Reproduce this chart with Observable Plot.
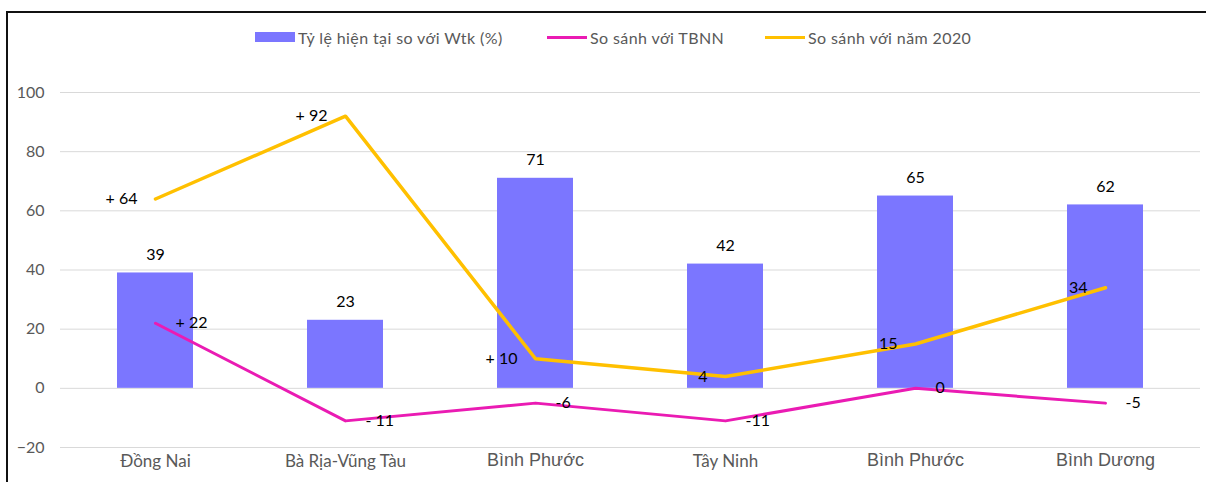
<!DOCTYPE html>
<html><head><meta charset="utf-8">
<script src="https://cdn.jsdelivr.net/npm/d3@7"></script>
<script src="https://cdn.jsdelivr.net/npm/@observablehq/plot@0.6"></script>
<style>
body{margin:0;width:1206px;height:482px;overflow:hidden;background:#fff;position:relative;font-family:Lato,"Open Sans",sans-serif}
#frame{position:absolute;left:6px;top:11px;width:1200px;height:471px;border-top:2px solid #111;border-left:2px solid #111;box-sizing:border-box}
.lg{position:absolute;top:28px;height:18px;display:flex;align-items:center;font-size:16px;letter-spacing:0.4px;color:#595959;white-space:nowrap}
.sw{display:inline-block;width:40px;margin-right:3px}
#chart{position:absolute;left:0;top:60px}
</style></head>
<body>
<div id="frame"></div>
<div id="legend"></div>
<div id="chart"></div>
<script>
// ---- data ----
const categories = ["Đồng Nai", "Bà Rịa-Vũng Tàu", "Bình Phước", "Tây Ninh", "Bình Phước", "Bình Dương"];
const ratioWtk = [39, 23, 71, 42, 65, 62];
const vsTBNN = [22, -11, -5, -11, 0, -5];
const vsTBNNLabels = ["+ 22", "- 11", "-6", "-11", "0", "-5"];
const vs2020 = [64, 92, 10, 4, 15, 34];
const vs2020Labels = ["+ 64", "+ 92", "+ 10", "4", "15", "34"];
const yTicks = [-20, 0, 20, 40, 60, 80, 100];
const seriesNames = ["Tỷ lệ hiện tại so với Wtk (%)", "So sánh với TBNN", "So sánh với năm 2020"];
const colors = ["#7b76ff", "#ea1bb3", "#ffc000"];

const data = categories.map((c, i) => ({
  i, cat: c, ratio: ratioWtk[i], tbnn: vsTBNN[i], tbnnLabel: vsTBNNLabels[i],
  y2020: vs2020[i], y2020Label: vs2020Labels[i]
}));

// ---- legend ----
const legend = document.getElementById("legend");
const lgLeft = [255, 547, 765];
seriesNames.forEach((name, k) => {
  const item = document.createElement("div");
  item.className = "lg";
  item.style.left = lgLeft[k] + "px";
  const sw = document.createElement("span");
  sw.className = "sw";
  sw.style.height = k === 0 ? "10px" : "3px";
  sw.style.background = colors[k];
  item.appendChild(sw);
  item.appendChild(document.createTextNode(name));
  legend.appendChild(item);
});

// ---- chart ----
const idx = d3.range(categories.length);
const chart = Plot.plot({
  width: 1206,
  height: 422,
  marginLeft: 60,
  marginRight: 6,
  marginTop: 32,
  marginBottom: 35,
  style: {fontFamily: "Lato, sans-serif", background: "transparent"},
  x: {type: "band", domain: idx, paddingInner: 0.6, paddingOuter: 0.3, axis: null},
  y: {domain: [-20, 100], axis: null},
  marks: [
    Plot.gridY(yTicks, {stroke: "#d9d9d9", strokeOpacity: 1}),
    Plot.axisY(yTicks, {tickSize: 0, tickPadding: 16, fontSize: 16, fill: "#595959", label: null}),
    Plot.barY(data, {x: "i", y: "ratio", fill: colors[0]}),
    Plot.lineY(data, {x: "i", y: "tbnn", stroke: colors[1], strokeWidth: 3}),
    Plot.lineY(data, {x: "i", y: "y2020", stroke: colors[2], strokeWidth: 3.5}),
    Plot.text(data, {x: "i", y: "ratio", text: d => String(d.ratio), dy: -18, fontSize: 16, fill: "#000"}),
    Plot.text(data, {x: "i", y: "y2020", text: "y2020Label", textAnchor: "end", dx: -18, fontSize: 16, fill: "#000"}),
    Plot.text(data, {x: "i", y: "tbnn", text: "tbnnLabel", textAnchor: "start", dx: 20, fontSize: 16, fill: "#000"}),
    Plot.axisX([0, 1, 3], {tickSize: 0, tickPadding: 7, tickFormat: i => categories[i], fontSize: 17, fill: "#595959", label: null}),
    Plot.axisX([2, 4, 5], {tickSize: 0, tickPadding: 6, tickFormat: i => categories[i], fontSize: 18, fontFamily: "Liberation Sans, Arial, sans-serif", fill: "#595959", label: null})
  ]
});
document.getElementById("chart").appendChild(chart);
</script>
</body></html>
